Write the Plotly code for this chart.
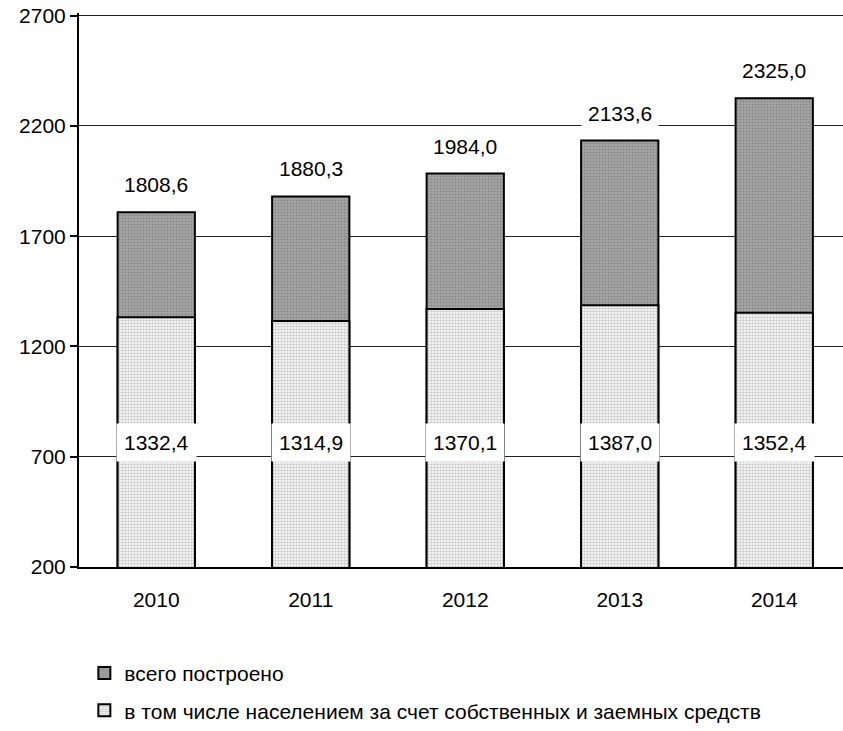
import plotly.graph_objects as go

years = ["2010", "2011", "2012", "2013", "2014"]
total_built = [1808.6, 1880.3, 1984.0, 2133.6, 2325.0]
population_built = [1332.4, 1314.9, 1370.1, 1387.0, 1352.4]
total_name = "всего построено"
pop_name = "в том числе населением за счет собственных и заемных средств"
y_ticks = [200, 700, 1200, 1700, 2200, 2700]

def fmt(v):
    return f"{v:.1f}".replace(".", ",")

FONT = "Liberation Sans, Arial, sans-serif"
FS = 21

fig = go.Figure()
fig.add_trace(go.Bar(
    x=years, y=total_built, name=total_name, width=0.5, legendgroup="a",
    marker=dict(color="#a0a0a0",
                line=dict(color="#000000", width=2),
                pattern=dict(shape=".", bgcolor="#a6a6a6", fgcolor="#6a6a6a",
                             size=3, solidity=0.4)),
))
fig.add_trace(go.Bar(
    x=years, y=population_built, name=pop_name, width=0.5, legendgroup="b",
    marker=dict(color="#dcdcdc",
                line=dict(color="#000000", width=2),
                pattern=dict(shape=".", bgcolor="#ffffff", fgcolor="#9a9a9a",
                             size=3, solidity=0.55)),
))

for i, v in enumerate(total_built):
    fig.add_annotation(x=i, y=v, xref="x", yref="y", text=fmt(v), showarrow=False,
                       yanchor="bottom", yshift=9, bgcolor="white", borderpad=6,
                       font=dict(family=FONT, size=FS, color="black"))
for i, v in enumerate(population_built):
    fig.add_annotation(x=i, y=765, xref="x", yref="y", text=fmt(v), showarrow=False,
                       yanchor="middle", bgcolor="white", borderpad=7,
                       font=dict(family=FONT, size=FS, color="black"))

fig.update_layout(
    width=843, height=731,
    margin=dict(l=79, r=0, t=13, b=161),
    barmode="overlay",
    plot_bgcolor="white", paper_bgcolor="white",
    font=dict(family=FONT, size=FS, color="black"),
    showlegend=True,
    legend=dict(x=0.007, xanchor="left", y=-0.155, yanchor="top",
                orientation="v", traceorder="grouped",
                font=dict(family=FONT, size=FS, color="black"),
                itemwidth=30, tracegroupgap=7,
                bgcolor="rgba(0,0,0,0)"),
)
fig.update_xaxes(
    type="category", automargin=False,
    range=[-0.5, 4.445], showline=True, linecolor="black", linewidth=2,
    ticks="", showgrid=False, ticklabelstandoff=13,
    tickfont=dict(family=FONT, size=FS, color="black"),
)
fig.update_yaxes(
    automargin=False,
    range=[200, 2712], tickvals=y_ticks, showline=True, linecolor="black",
    linewidth=2, ticks="outside", ticklen=7, tickcolor="black", tickwidth=1.5,
    showgrid=True, gridcolor="#222222", gridwidth=1, zeroline=False,
    tickfont=dict(family=FONT, size=FS, color="black"),
)

fig.write_html("out.html", config={"displayModeBar": False},
               post_script="document.body.style.margin='0';")
